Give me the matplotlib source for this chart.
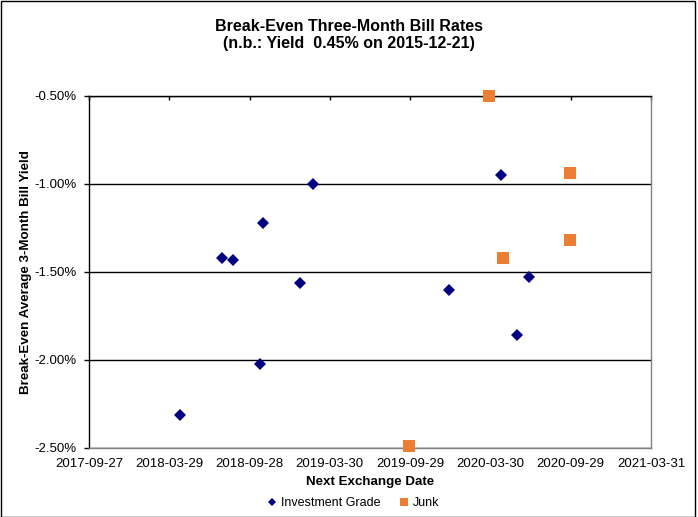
import numpy as np
import pandas as pd
import matplotlib
matplotlib.use("Agg")
import matplotlib.pyplot as plt
import matplotlib.dates as mdates
from matplotlib.patches import Rectangle
from matplotlib.ticker import FuncFormatter

plt.rcParams['font.family'] = ['Liberation Sans', 'DejaVu Sans']

# Investment grade issues: next exchange date vs break-even yield (%)
ig_dates = ['2018-04-22', '2018-07-27', '2018-08-21', '2018-10-22', '2018-10-29',
            '2019-01-21', '2019-02-20', '2019-12-27', '2020-04-23', '2020-05-30',
            '2020-06-26']
ig_yield = [-2.31, -1.42, -1.43, -2.02, -1.22, -1.56, -1.00, -1.60, -0.95, -1.86, -1.53]

# Junk issues
junk_dates = ['2019-09-26', '2020-03-27', '2020-04-28', '2020-09-27', '2020-09-27']
junk_yield = [-2.49, -0.50, -1.42, -0.94, -1.32]

x_ticks = ['2017-09-27', '2018-03-29', '2018-09-28', '2019-03-30', '2019-09-29',
           '2020-03-30', '2020-09-29', '2021-03-31']
y_ticks = [-2.5, -2.0, -1.5, -1.0, -0.5]

W, H = 698, 517
fig = plt.figure(figsize=(W / 100, H / 100), dpi=100)
ax = fig.add_axes([89 / W, 1 - 448 / H, 562 / W, 352 / H])

ax.plot(pd.to_datetime(ig_dates), ig_yield, linestyle='none', marker='D', ms=6.6,
        color='#000080', mew=0, label='Investment Grade', clip_on=False, zorder=5)
ax.plot(pd.to_datetime(junk_dates), junk_yield, linestyle='none', marker='s', ms=8.6,
        color='#ED7D31', mew=0, label='Junk', clip_on=False, zorder=5)

xt = pd.to_datetime(x_ticks)
ax.set_xlim(xt[0], xt[-1])
ax.set_ylim(-2.5, -0.5)
ax.set_xticks(xt)
ax.xaxis.set_major_formatter(mdates.DateFormatter('%Y-%m-%d'))
ax.set_yticks(y_ticks)
ax.yaxis.set_major_formatter(FuncFormatter(lambda v, p: f"{v:.2f}%"))

# y gridlines (black, like the Excel original)
ax.grid(axis='y', color='black', linewidth=1)
ax.set_axisbelow(True)

# x axis line sits on top (axis crosses at the top), labels at the bottom
ax.tick_params(axis='x', top=True, bottom=False, labeltop=False, labelbottom=True,
               direction='in', length=3, width=1, color='black', pad=7,
               labelsize=9.5)
ax.tick_params(axis='y', left=True, direction='out', length=3.6, width=1,
               color='black', pad=5.5, labelsize=9.5)

ax.spines['left'].set_color('black')
ax.spines['top'].set_color('black')
ax.spines['right'].set_color('#808080')
ax.spines['bottom'].set_color('#808080')
for s in ax.spines.values():
    s.set_linewidth(1)

ax.set_xlabel('Next Exchange Date', fontsize=9.6, fontweight='bold')
ax.xaxis.set_label_coords(0.5, -0.08)
ax.set_ylabel('Break-Even Average 3-Month Bill Yield', fontsize=9.6, fontweight='bold')
ax.yaxis.set_label_coords(-0.101, 0.5)

fig.text(0.5, 1 - 35 / H, 'Break-Even Three-Month Bill Rates\n(n.b.: Yield  0.45% on 2015-12-21)',
         ha='center', va='center', fontsize=11.5, fontweight='bold', linespacing=1.1)

fig.legend(loc='center', bbox_to_anchor=(353 / W, 1 - 503 / H), ncol=2, frameon=False,
           fontsize=9, markerscale=0.6, handlelength=0.8, handletextpad=0.3,
           columnspacing=1.5)

# chart-area border
fig.add_artist(Rectangle((0.5 / W, 0.5 / H), (W - 4) / W, (H - 1.5) / H,
                         transform=fig.transFigure, fill=False, edgecolor='black',
                         linewidth=1))

fig.savefig('out.png', dpi=100)
